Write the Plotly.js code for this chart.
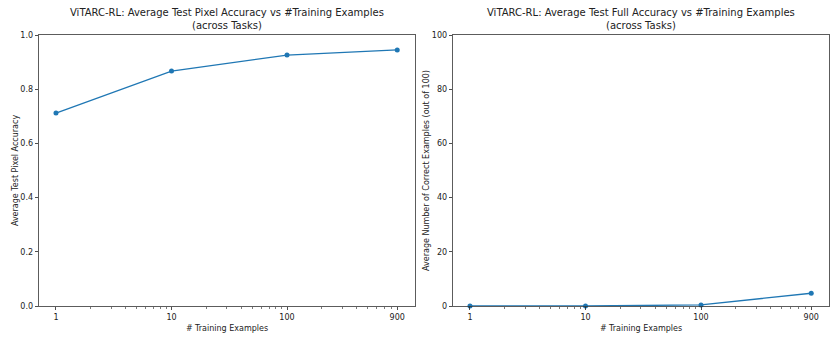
<!DOCTYPE html>
<html><head><meta charset="utf-8">
<script src="https://cdn.plot.ly/plotly-3.0.1.min.js"></script>
<style>html,body{margin:0;padding:0;background:#fff}#c{width:835px;height:339px}</style>
</head><body><div id="c"></div>
<script>
const trainingExamples = [1, 10, 100, 900];
const pixelAccuracy = [0.712, 0.867, 0.926, 0.945];
const fullAccuracy = [0.0, 0.0, 0.4, 4.7];
const xTickVals = [1, 10, 100, 900];
const xTickText = ['1', '10', '100', '900'];
const minorVals = [2,3,4,5,6,7,8,9,20,30,40,50,60,70,80,90,200,300,400,500,600,700,800];

const W = 835, H = 339;
const px = v => v / W, py = v => 1 - v / H;
const font = {family: 'DejaVu Sans, sans-serif', size: 8, color: '#222'};
const lineColor = '#1f77b4';

function xa(domain) {
  return {
    type: 'log', domain: domain, range: [-0.147, 3.108],
    tickvals: xTickVals, ticktext: xTickText,
    ticks: 'outside', ticklen: 3.5, tickwidth: 0.8, tickcolor: '#222',
    showline: true, mirror: true, linecolor: '#333', linewidth: 0.8,
    showgrid: false, zeroline: false, tickfont: font,
    minor: {tickvals: minorVals, ticks: 'outside', ticklen: 2, tickwidth: 0.6, tickcolor: '#222', showgrid: false},
    title: {text: '# Training Examples', font: font, standoff: 4}
  };
}
function ya(domain, range, dtick, title) {
  return {
    domain: domain, range: range, dtick: dtick,
    ticks: 'outside', ticklen: 3.5, tickwidth: 0.8, tickcolor: '#222',
    showline: true, mirror: true, linecolor: '#333', linewidth: 0.8,
    showgrid: false, zeroline: false, tickfont: font,
    title: {text: title, font: font, standoff: 0}
  };
}

const trace = (x, y, xaxis, yaxis) => ({
  x: x, y: y, xaxis: xaxis, yaxis: yaxis, type: 'scatter', mode: 'lines+markers',
  line: {color: lineColor, width: 1.3}, marker: {color: lineColor, size: 5},
  cliponaxis: false, showlegend: false
});

const yDom = [py(306), py(35)];
const layout = {
  width: W, height: H, margin: {l: 0, r: 0, t: 0, b: 0},
  paper_bgcolor: '#fff', plot_bgcolor: '#fff',
  xaxis: xa([px(39), px(415)]),
  yaxis: Object.assign(ya(yDom, [0, 1], 0.2, 'Average Test Pixel Accuracy'), {tickformat: '.1f'}),
  xaxis2: Object.assign(xa([px(453), px(829)]), {anchor: 'y2'}),
  yaxis2: Object.assign(ya(yDom, [0, 100], 20, 'Average Number of Correct Examples (out of 100)'), {anchor: 'x2'}),
  annotations: [
    {text: 'ViTARC-RL: Average Test Pixel Accuracy vs #Training Examples<br>(across Tasks)',
     xref: 'paper', yref: 'paper', x: px(227), y: py(33), xanchor: 'center', yanchor: 'bottom',
     showarrow: false, font: {family: 'DejaVu Sans, sans-serif', size: 10, color: '#222'}},
    {text: 'ViTARC-RL: Average Test Full Accuracy vs #Training Examples<br>(across Tasks)',
     xref: 'paper', yref: 'paper', x: px(641), y: py(33), xanchor: 'center', yanchor: 'bottom',
     showarrow: false, font: {family: 'DejaVu Sans, sans-serif', size: 10, color: '#222'}}
  ]
};
Plotly.newPlot('c', [
  trace(trainingExamples, pixelAccuracy, 'x', 'y'),
  trace(trainingExamples, fullAccuracy, 'x2', 'y2')
], layout, {staticPlot: true});
</script></body></html>
